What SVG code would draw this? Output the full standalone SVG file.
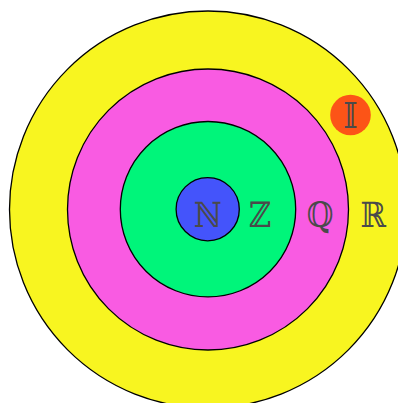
<svg xmlns="http://www.w3.org/2000/svg" width="398" height="403" viewBox="0 0 398 403">
<style>
.ring{stroke:#000;stroke-width:1.3}
.lbl{font-family:"DejaVu Serif","DejaVu Sans",serif;font-size:35px;fill:#4a4a4a;text-anchor:middle}
</style>
<rect width="398" height="403" fill="#fff"/>
<g id="R"><circle class="ring" cx="208" cy="209.5" r="198.5" fill="#F8F520"/></g>
<g id="Q"><circle class="ring" cx="208" cy="209.5" r="140.5" fill="#F95BE2"/></g>
<g id="Z"><circle class="ring" cx="208" cy="209.2" r="87.7" fill="#00F57A"/></g>
<g id="N"><circle class="ring" cx="207.7" cy="209.2" r="31.6" fill="#4454FB"/></g>
<g id="I"><circle cx="350.5" cy="115" r="20.3" fill="#FC5417"/></g>
<g id="labels">
<text class="lbl" x="208" y="227" transform="translate(208 0) scale(0.88 1) translate(-208 0)">ℕ</text>
<text class="lbl" x="260" y="227" transform="translate(260 0) scale(0.88 1) translate(-260 0)">ℤ</text>
<text class="lbl" x="320" y="227" transform="translate(320 0) scale(0.88 1) translate(-320 0)">ℚ</text>
<text class="lbl" x="373" y="227" transform="translate(373 0) scale(0.88 1) translate(-373 0)">ℝ</text>
<text class="lbl" x="350.5" y="128" transform="translate(350.5 0) scale(0.88 1) translate(-350.5 0)">𝕀</text>
</g>
</svg>
